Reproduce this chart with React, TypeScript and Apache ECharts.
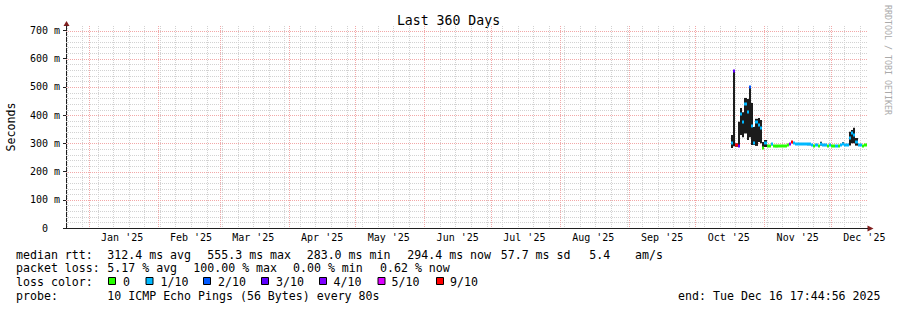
import React, { useEffect, useRef } from "react";
import * as echarts from "echarts";

// ---- time frame -------------------------------------------------------
const RANGE_END = Date.UTC(2025, 11, 16, 17, 44, 56);
const RANGE_DAYS = 360;
const RANGE_START = RANGE_END - RANGE_DAYS * 864e5;
const DATA_START = Date.UTC(2025, 9, 17);

const monthLabels = ["Jan '25", "Feb '25", "Mar '25", "Apr '25", "May '25", "Jun '25", "Jul '25", "Aug '25", "Sep '25", "Oct '25", "Nov '25", "Dec '25"];
const yTickValues = [0, 100, 200, 300, 400, 500, 600, 700];

// ---- data (one value per day from Oct 17 2025), milliseconds ------------
const medianMs = [
  300, 555, 295, 290, 405, 375, 440, 410, 500, 360,
  300, 375, 365, 355, 284, 300, 292, 291, 296, 290,
  289, 290, 291, 290, 292, 293, 297, 304, 300, 298,
  299, 297, 298, 297, 296, 296, 295, 292, 294, 291,
  297, 294, 293, 291, 293, 290, 291, 292, 290, 293,
  297, 295, 294, 320, 338, 330, 305, 295, 294, 292,
  294,
];
const lossTenths = [
  1, 3, 9, 3, 1, 1, 1, 1, 2, 1,
  1, 1, 1, 1, 0, 1, 0, 0, 1, 0,
  0, 0, 0, 0, 0, 0, 4, 9, 1, 1,
  1, 1, 1, 1, 1, 1, 1, 0, 1, 0,
  1, 1, 1, 0, 1, 0, 0, 1, 0, 1,
  1, 1, 1, 1, 1, 1, 1, 1, 1, 0,
  0,
];
const smokeLowMs = [
  284, 290, 288, 287, 330, 322, 335, 312, 322, 294,
  294, 291, 305, 300, 284, 287, 291, 290, 295, 289,
  288, 289, 290, 289, 291, 292, 296, 302, 299, 297,
  298, 296, 297, 296, 295, 295, 294, 291, 293, 290,
  292, 293, 292, 290, 292, 289, 290, 291, 289, 292,
  294, 294, 293, 292, 300, 300, 292, 294, 293, 291,
  293,
];
const smokeHighMs = [
  330, 555, 300, 377, 425, 410, 461, 457, 503, 443,
  358, 387, 390, 383, 305, 312, 293, 292, 297, 291,
  290, 291, 292, 291, 293, 294, 298, 305, 301, 299,
  300, 298, 299, 298, 297, 297, 296, 293, 295, 292,
  306, 295, 294, 292, 294, 291, 292, 293, 291, 294,
  304, 296, 295, 341, 347, 355, 319, 296, 295, 293,
  295,
];

const lossLabels = ["0", "1/10", "2/10", "3/10", "4/10", "5/10", "9/10"];
const lossColors = ["#26ff00", "#00b8ff", "#0059ff", "#5e00ff", "#7e00ff", "#dd00ff", "#ff0000"];

// ---- derived positions ---------------------------------------------------
const toOffset = (ms: number) => (ms - RANGE_START) / 864e5;
const monthStarts = monthLabels.map((_, m) => toOffset(Date.UTC(2025, m, 1)));
const monthLabelPos = monthStarts.map((o) => o + 15);
const weekStarts: number[] = [];
for (let t = Date.UTC(2024, 11, 22); t < RANGE_END; t += 7 * 864e5) weekStarts.push(toOffset(t));
const dataStartOffset = toOffset(DATA_START);
const yMinor: number[] = [];
for (let v = 20; v <= 700; v += 20) if (v % 100 !== 0) yMinor.push(v);
const yMajor = yTickValues.filter((v) => v > 0);

const lossBucket = (t: number) => (t >= 6 ? 6 : t);

const MONO = '"DejaVu Sans Mono", monospace';
const GRID_COLOR = "#d2d2d2";
const MGRID_COLOR = "#f2a8a8";

function vLines(values: number[], color: string, z: number) {
  return {
    type: "custom",
    silent: true,
    z,
    clip: false,
    data: values.map((v) => [v, 0]),
    renderItem: (params: any, api: any) => {
      const cs = params.coordSys;
      const x = Math.round(api.coord([api.value(0), 0])[0]) + 0.5;
      if (x <= cs.x + 1) return null;
      return {
        type: "line",
        shape: { x1: x, y1: cs.y, x2: x, y2: cs.y + cs.height },
        style: { stroke: color, lineWidth: 1, lineDash: [1, 1] },
      };
    },
  };
}

function hLines(values: number[], color: string, z: number) {
  return {
    type: "custom",
    silent: true,
    z,
    clip: false,
    data: values.map((v) => [0, v]),
    renderItem: (params: any, api: any) => {
      const cs = params.coordSys;
      const y = Math.round(api.coord([0, api.value(1)])[1]) + 0.5;
      return {
        type: "line",
        shape: { x1: cs.x, y1: y, x2: cs.x + cs.width + 2, y2: y },
        style: { stroke: color, lineWidth: 1, lineDash: [1, 1] },
      };
    },
  };
}

function txt(text: string, x: number, y: number, extra: any = {}) {
  return {
    type: "text",
    silent: true,
    style: {
      text,
      x,
      y,
      fill: "#000",
      fontFamily: MONO,
      fontSize: 11.6,
      align: "left",
      verticalAlign: "middle",
      ...extra,
    },
  };
}

export default function App() {
  const ref = useRef<HTMLDivElement>(null);

  useEffect(() => {
    if (!ref.current) return;
    const chart = echarts.init(ref.current, undefined, { renderer: "svg" });

    const smokeData = medianMs.map((_, i) => [dataStartOffset + i, smokeLowMs[i], smokeHighMs[i]]);
    const medianData = medianMs.map((m, i) => [dataStartOffset + i, m, lossBucket(lossTenths[i])]);

    const L1 = 254.5, L2 = 268, L3 = 282, L4 = 296;
    const boxX = [108, 145.5, 203, 261, 319, 377.5, 436];
    const boxLabelX = [123, 160.5, 218, 276, 333.5, 391.5, 450];

    const graphic: any[] = [
      txt("Last 360 Days", 448.5, 20, { fontSize: 13.2, align: "center" }),
      {
        type: "text",
        silent: true,
        x: 10.5,
        y: 127,
        rotation: Math.PI / 2,
        style: { text: "Seconds", fill: "#000", fontFamily: MONO, fontSize: 11.6, align: "center", verticalAlign: "middle" },
      },
      {
        type: "text",
        silent: true,
        x: 887.5,
        y: 60,
        rotation: -Math.PI / 2,
        style: { text: "RRDTOOL / TOBI OETIKER", fill: "#aaaaaa", fontFamily: MONO, fontSize: 8.3, align: "center", verticalAlign: "middle" },
      },
      { type: "polygon", silent: true, shape: { points: [[63.5, 26], [69.5, 26], [66.5, 21]] }, style: { fill: "#801f1f" } },
      { type: "polygon", silent: true, shape: { points: [[867.5, 225.5], [867.5, 231.5], [873.5, 228.5]] }, style: { fill: "#801f1f" } },
      { type: "line", silent: true, shape: { x1: 865, y1: 228.5, x2: 868, y2: 228.5 }, style: { stroke: "#1f1f1f", lineWidth: 1 } },
      txt("median rtt:", 16, L1),
      txt("312.4 ms avg", 107.3, L1),
      txt("555.3 ms max", 207.3, L1),
      txt("283.0 ms min", 306.7, L1),
      txt("294.4 ms now", 407.3, L1),
      txt("57.7 ms sd", 500.7, L1),
      txt("5.4", 589.3, L1),
      txt("am/s", 635, L1),
      txt("packet loss:", 16, L2),
      txt("5.17 % avg", 107.3, L2),
      txt("100.00 % max", 193.3, L2),
      txt("0.00 % min", 293, L2),
      txt("0.62 % now", 380, L2),
      txt("loss color:", 16, L3),
      txt("probe:", 16, L4),
      txt("10 ICMP Echo Pings (56 Bytes) every 80s", 107.3, L4),
      txt("end: Tue Dec 16 17:44:56 2025", 880.5, L4, { align: "right" }),
    ];
    lossLabels.forEach((lab, i) => {
      graphic.push({
        type: "rect",
        silent: true,
        shape: { x: boxX[i] + 0.5, y: 277.5, width: 7, height: 7 },
        style: { fill: lossColors[i], stroke: "#000", lineWidth: 1 },
      });
      graphic.push(txt(lab, boxLabelX[i], L3));
    });

    chart.setOption({
      animation: false,
      backgroundColor: "#ffffff",
      grid: { left: 66, top: 26, width: 800, height: 202, containLabel: false },
      xAxis: {
        type: "value",
        min: 0,
        max: RANGE_DAYS,
        axisLine: { show: true, lineStyle: { color: "#1f1f1f", width: 1 } },
        axisTick: { show: false },
        splitLine: { show: false },
        axisLabel: {
          customValues: monthLabelPos,
          formatter: (v: number) => {
            const idx = monthLabelPos.findIndex((o) => Math.abs(o - v) < 0.5);
            return idx >= 0 ? monthLabels[idx] : "";
          },
          fontFamily: MONO,
          fontSize: 10,
          color: "#000",
          margin: 4,
        },
      },
      yAxis: {
        type: "value",
        min: 0,
        max: 716,
        interval: 100,
        axisLine: { show: true, lineStyle: { color: "#1f1f1f", width: 1 } },
        axisTick: { show: true, length: 3, customValues: yTickValues, lineStyle: { color: "#1f1f1f" } },
        splitLine: { show: false },
        axisLabel: {
          customValues: yTickValues,
          formatter: (v: number) => (v % 100 !== 0 ? "" : v === 0 ? "0\u00a0\u00a0" : `${v} m`),
          fontFamily: MONO,
          fontSize: 10,
          color: "#000",
          margin: 6,
        },
      },
      graphic,
      series: [
        hLines(yMinor, GRID_COLOR, 1),
        vLines(weekStarts, GRID_COLOR, 1),
        hLines(yMajor, MGRID_COLOR, 2),
        vLines(monthStarts, MGRID_COLOR, 2),
        {
          type: "custom",
          silent: true,
          z: 3,
          data: smokeData,
          renderItem: (params: any, api: any) => {
            const x0 = api.value(0);
            const p1 = api.coord([x0, api.value(2)]);
            const p2 = api.coord([x0 + 1, api.value(1)]);
            const xa = Math.round(p1[0]);
            const xb = Math.round(p2[0]);
            return {
              type: "rect",
              shape: { x: xa, y: p1[1], width: Math.max(1, xb - xa), height: Math.max(1, p2[1] - p1[1]) },
              style: { fill: "#1c1c1c" },
            };
          },
        },
        {
          type: "custom",
          silent: true,
          z: 4,
          data: medianData,
          renderItem: (params: any, api: any) => {
            const x0 = api.value(0);
            const p1 = api.coord([x0, api.value(1)]);
            const p2 = api.coord([x0 + 1, api.value(1)]);
            const xa = Math.round(p1[0]);
            const xb = Math.round(p2[0]);
            return {
              type: "rect",
              shape: { x: xa, y: Math.round(p1[1]) - 1.5, width: Math.max(1, xb - xa), height: 3 },
              style: { fill: lossColors[api.value(2)] },
            };
          },
        },
      ],
    });

    return () => chart.dispose();
  }, []);

  return (
    <div
      ref={ref}
      style={{ position: "fixed", left: 0, top: 0, width: 897, height: 310, background: "#fff" }}
    />
  );
}
